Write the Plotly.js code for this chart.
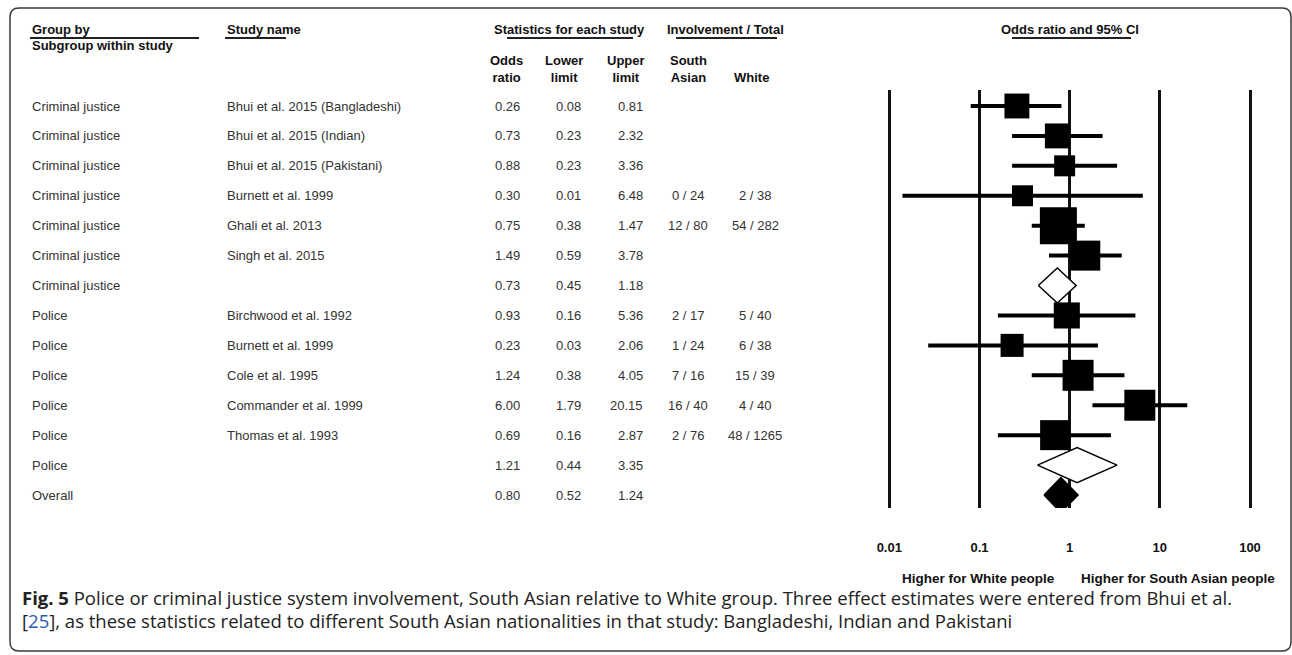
<!DOCTYPE html>
<html>
<head>
<meta charset="utf-8">
<script src="https://cdn.plot.ly/plotly-3.0.1.min.js"></script>
<style>
  html, body { margin: 0; padding: 0; background: #fff; }
  #chart { width: 1292px; height: 655px; }
</style>
</head>
<body>
<div id="chart"></div>
<script>
// ---------------- DATA ----------------
const groupLabel = [
  'Criminal justice', 'Criminal justice', 'Criminal justice', 'Criminal justice',
  'Criminal justice', 'Criminal justice', 'Criminal justice',
  'Police', 'Police', 'Police', 'Police', 'Police', 'Police',
  'Overall'
];
const studyName = [
  'Bhui et al. 2015 (Bangladeshi)', 'Bhui et al. 2015 (Indian)', 'Bhui et al. 2015 (Pakistani)',
  'Burnett et al. 1999', 'Ghali et al. 2013', 'Singh et al. 2015', '',
  'Birchwood et al. 1992', 'Burnett et al. 1999', 'Cole et al. 1995',
  'Commander et al. 1999', 'Thomas et al. 1993', '', ''
];
const rowType = [
  'study', 'study', 'study', 'study', 'study', 'study', 'subtotal',
  'study', 'study', 'study', 'study', 'study', 'subtotal', 'overall'
];
const oddsRatio  = [0.26, 0.73, 0.88, 0.30, 0.75, 1.49, 0.73, 0.93, 0.23, 1.24, 6.00, 0.69, 1.21, 0.80];
const lowerLimit = [0.08, 0.23, 0.23, 0.014, 0.38, 0.59, 0.45, 0.16, 0.027, 0.38, 1.79, 0.16, 0.44, 0.52];
const upperLimit = [0.81, 2.32, 3.36, 6.48, 1.47, 3.78, 1.18, 5.36, 2.06, 4.05, 20.15, 2.87, 3.35, 1.24];
const southAsian = ['', '', '', '0 / 24', '12 / 80', '', '', '2 / 17', '1 / 24', '7 / 16', '16 / 40', '2 / 76', '', ''];
const white      = ['', '', '', '2 / 38', '54 / 282', '', '', '5 / 40', '6 / 38', '15 / 39', '4 / 40', '48 / 1265', '', ''];
// relative study weight (drives box area)
const relWeight  = [6.2, 6.2, 4.4, 4.4, 13.7, 9.0, null, 6.8, 5.3, 9.6, 9.6, 9.0, null, null];
const axisTicks  = [0.01, 0.1, 1, 10, 100];
const axisTickText = ['0.01', '0.1', '1', '10', '100'];

// ---------------- HELPERS ----------------
const W = 1292, H = 655;
const px = x => x / W;
const py = y => 1 - y / H;
const BODY = 'Liberation Sans, Arial, sans-serif';
const bodyFont = { family: BODY, size: 13, color: '#333' };
const headFont = { family: BODY, size: 13, color: '#111' };

const annotations = [];
function paperText(text, x, y, xanchor, font) {
  annotations.push({ text, x: px(x), y: py(y), xref: 'paper', yref: 'paper',
    xanchor, yanchor: 'middle', showarrow: false, font, align: xanchor === 'center' ? 'center' : xanchor });
}
function rowText(text, x, row, xanchor) {
  if (!text) return;
  annotations.push({ text, x: px(x), y: row, xref: 'paper', yref: 'y',
    xanchor, yanchor: 'middle', showarrow: false, font: bodyFont });
}

// headers
paperText('<b>Group by</b>', 30, 30, 'left', headFont);
paperText('<b>Subgroup within study</b>', 30, 46, 'left', headFont);
paperText('<b>Study name</b>', 225, 30, 'left', headFont);
paperText('<b>Statistics for each study</b>', 569, 30, 'center', headFont);
paperText('<b>Involvement / Total</b>', 725, 30, 'center', headFont);
paperText('<b>Odds<br>ratio</b>', 506, 69, 'center', headFont);
paperText('<b>Lower<br>limit</b>', 564, 69, 'center', headFont);
paperText('<b>Upper<br>limit</b>', 626, 69, 'center', headFont);
paperText('<b>South<br>Asian</b>', 688, 69, 'center', headFont);
paperText('<b>White</b>', 752, 77, 'center', headFont);
paperText('<b>Odds ratio and 95% CI</b>', 1070, 30, 'center', headFont);

// table rows
groupLabel.forEach((g, i) => {
  const r = i + 1;
  rowText(g, 30, r, 'left');
  rowText(studyName[i], 225, r, 'left');
  rowText(oddsRatio[i].toFixed(2), 522, r, 'right');
  rowText(lowerLimit[i].toFixed(2), 583, r, 'right');
  rowText(upperLimit[i].toFixed(2), 645, r, 'right');
  rowText(southAsian[i], 688, r, 'center');
  rowText(white[i], 755, r, 'center');
});

// axis direction labels
const dirFont = { family: BODY, size: 13.5, color: '#111' };
paperText('<b>Higher for White people</b>', 978, 578, 'center', dirFont);
paperText('<b>Higher for South Asian people</b>', 1178, 578, 'center', dirFont);

// caption
const capFont = { family: 'Open Sans, sans-serif', size: 18.5, color: '#222' };
paperText('<b>Fig. 5</b> Police or criminal justice system involvement, South Asian relative to White group. Three effect estimates were entered from Bhui et al.', 20, 597, 'left', capFont);
paperText('[<span style="color:#2a5db0">25</span>], as these statistics related to different South Asian nationalities in that study: Bangladeshi, Indian and Pakistani', 20, 620, 'left', capFont);

// shapes: header underlines + rounded frame
const shapes = [];
function uline(x0, x1, y) {
  shapes.push({ type: 'line', xref: 'paper', yref: 'paper', x0: px(x0), x1: px(x1), y0: py(y), y1: py(y),
    line: { color: '#222', width: 2 } });
}
uline(30, 199, 38);
uline(225, 286, 38);
uline(507, 633, 38);
uline(676, 777, 38);
uline(1012, 1131, 38);

(function frame() {
  const L = 10, T = 8, R = 1291, B = 651, r = 9;
  const p = (x, y) => px(x) + ',' + py(y);
  const path = 'M' + p(L + r, T) + ' L' + p(R - r, T) + ' Q' + p(R, T) + ' ' + p(R, T + r) +
    ' L' + p(R, B - r) + ' Q' + p(R, B) + ' ' + p(R - r, B) +
    ' L' + p(L + r, B) + ' Q' + p(L, B) + ' ' + p(L, B - r) +
    ' L' + p(L, T + r) + ' Q' + p(L, T) + ' ' + p(L + r, T) + ' Z';
  shapes.push({ type: 'path', xref: 'paper', yref: 'paper', path, line: { color: '#3a3a3a', width: 1.5 },
    fillcolor: 'rgba(0,0,0,0)', layer: 'above' });
})();

// ---------------- TRACES ----------------
const traces = [];
const studyIdx = rowType.map((t, i) => t === 'study' ? i : -1).filter(i => i >= 0);
traces.push({
  type: 'scatter', mode: 'markers',
  x: studyIdx.map(i => oddsRatio[i]),
  y: studyIdx.map(i => i + 1),
  marker: { symbol: 'square', color: '#000', opacity: 1,
            size: studyIdx.map(i => 10 * Math.sqrt(relWeight[i])), line: { width: 0 } },
  error_x: {
    type: 'data', symmetric: false,
    array: studyIdx.map(i => upperLimit[i] - oddsRatio[i]),
    arrayminus: studyIdx.map(i => oddsRatio[i] - lowerLimit[i]),
    thickness: 4, width: 0, color: '#000'
  },
  hoverinfo: 'skip'
});

const halfH = 0.585;
rowType.forEach((t, i) => {
  if (t === 'study') return;
  const r = i + 1;
  traces.push({
    type: 'scatter', mode: 'lines', fill: 'toself',
    x: [lowerLimit[i], oddsRatio[i], upperLimit[i], oddsRatio[i], lowerLimit[i]],
    y: [r, r - halfH, r, r + halfH, r],
    line: { color: '#000', width: 1.5 },
    fillcolor: t === 'overall' ? '#000' : '#fff',
    hoverinfo: 'skip'
  });
});

// ---------------- LAYOUT ----------------
const decade = (1250 - 889.3) / 4;
const layout = {
  width: W, height: H,
  margin: { l: 0, r: 0, t: 0, b: 0, pad: 0 },
  paper_bgcolor: '#fff', plot_bgcolor: 'rgba(0,0,0,0)',
  showlegend: false,
  font: { family: BODY, size: 13, color: '#333' },
  xaxis: {
    type: 'log',
    domain: [px(850), px(1290)],
    range: [-2 - (889.3 - 850) / decade, 2 + (1290 - 1250) / decade],
    tickmode: 'array', tickvals: axisTicks,
    ticktext: axisTickText.map(t => '<b>' + t + '</b>'),
    tickfont: { family: BODY, size: 13, color: '#111' },
    ticks: 'outside', ticklen: 27, tickcolor: 'rgba(0,0,0,0)', tickwidth: 0,
    showgrid: true, gridcolor: '#111', gridwidth: 3,
    showline: false, zeroline: false, fixedrange: true
  },
  yaxis: {
    domain: [py(508), py(90)],
    range: [14 + (508 - 495) / ((495 - 106) / 13), 1 - (106 - 90) / ((495 - 106) / 13)],
    showgrid: false, zeroline: false, showline: false, showticklabels: false, ticks: '',
    fixedrange: true
  },
  annotations, shapes
};

Plotly.newPlot('chart', traces, layout, { staticPlot: true, displayModeBar: false });
</script>
</body>
</html>
